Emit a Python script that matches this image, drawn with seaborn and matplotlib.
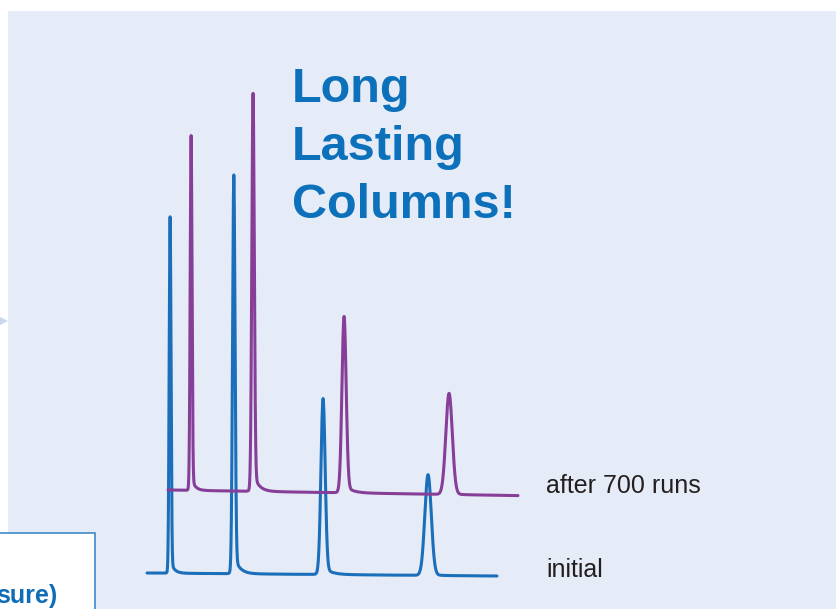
import numpy as np
import pandas as pd
import matplotlib
matplotlib.use("Agg")
import matplotlib.pyplot as plt
from matplotlib.patches import Rectangle, Polygon
import seaborn as sns

# ---- chromatogram data (retention time in min, peak height in mAU) ----
runs = ["initial", "after 700 runs"]
retention_initial = [0.66, 2.48, 5.03, 8.03]
retention_700 = [0.66, 2.43, 5.03, 8.03]
height_initial = [89.1, 99.7, 44.0, 25.2]
height_700 = [88.7, 99.5, 44.1, 25.3]
peak_sigma = [0.026, 0.035, 0.060, 0.092]      # gaussian width of each peak
tail_tau = [0.10, 0.15, 0.20, 0.14]            # exponential tailing constant
tail_fraction = [0.04, 0.05, 0.05, 0.03]       # relative size of the tail
baseline_drift = {"initial": -0.75, "after 700 runs": -1.4}   # mAU over the run
run_length = 10.0

# stacked (waterfall) display offset for the later run
stack_dx = {"initial": 0.0, "after 700 runs": 0.6}
stack_dy = {"initial": 0.0, "after 700 runs": 20.75}

colors = {"initial": "#1b6eb9", "after 700 runs": "#873e98"}
title_blue = "#0c71ba"


def trace(times, heights, drift):
    t = np.linspace(0.0, run_length, 4001)
    y = drift * t / run_length
    for rt, h, s, tau, f in zip(times, heights, peak_sigma, tail_tau, tail_fraction):
        d = t - rt
        core = np.exp(-0.5 * (d / s) ** 2)
        onset = 1.0 / (1.0 + np.exp(-np.clip(d / s, -50, 50)))
        tail = f * np.exp(-np.clip(d, 0, None) / tau) * onset
        shape = core + tail
        y = y + h * shape / shape.max()
    return t, y


frames = []
for run, rts, hs in [("initial", retention_initial, height_initial),
                     ("after 700 runs", retention_700, height_700)]:
    t, y = trace(rts, hs, baseline_drift[run])
    frames.append(pd.DataFrame({"time": t + stack_dx[run],
                                "signal": y + stack_dy[run],
                                "run": run}))
df = pd.concat(frames, ignore_index=True)

W, H = 837, 609
sns.set_theme(style="white")
fig = plt.figure(figsize=(W / 100, H / 100), dpi=100)
fig.patch.set_facecolor("white")


def fx(px):
    return px / W


def fy(py):
    return 1 - py / H


# light panel behind the chromatogram
fig.patches.append(Rectangle((fx(8), 0), 1 - fx(8), fy(11), transform=fig.transFigure,
                             facecolor="#e6ecf7", edgecolor="none", zorder=-3))
# small pointer on the left edge
fig.patches.append(Polygon([(fx(0), fy(317)), (fx(8), fy(321)), (fx(0), fy(325))],
                           closed=True, transform=fig.transFigure,
                           facecolor="#c8d7ec", edgecolor="none", zorder=-2))
# white caption box in the lower-left corner
fig.patches.append(Rectangle((fx(-2), fy(612)), fx(97), fy(533) - fy(612),
                             transform=fig.transFigure, facecolor="white",
                             edgecolor="#2f80c6", linewidth=1.1, zorder=-2))

ax = fig.add_axes([0, 0, 1, 1])
ax.patch.set_alpha(0)
sns.lineplot(data=df, x="time", y="signal", hue="run", hue_order=runs,
             palette=colors, linewidth=2.2, legend=False, ax=ax, sort=False,
             estimator=None)
ax.set_xlim(-147 / 35, (W - 147) / 35)
ax.set_ylim(-9, 573 / 4)
ax.set_axis_off()

# run labels
label_font = ["Liberation Sans Narrow", "Liberation Sans", "DejaVu Sans"]
fig.text(fx(546), fy(493), "after 700 runs", family=label_font, fontsize=18,
         color="#231f20", va="baseline", ha="left")
fig.text(fx(546), fy(577), "initial", family=label_font, fontsize=18,
         color="#231f20", va="baseline", ha="left")

# headline
for line, base in zip(["Long", "Lasting", "Columns!"], [102, 160, 218]):
    fig.text(fx(292), fy(base), line, family=["Liberation Sans", "DejaVu Sans"],
             fontweight="bold", fontsize=35, color=title_blue, va="baseline",
             ha="left")

# caption fragment in the corner box
fig.text(fx(57), fy(603), "sure)", family=["Liberation Sans", "DejaVu Sans"],
         fontweight="bold", fontsize=18, color="#0e6db6", va="baseline",
         ha="right")

fig.savefig("out.png", dpi=100, facecolor=fig.get_facecolor())
